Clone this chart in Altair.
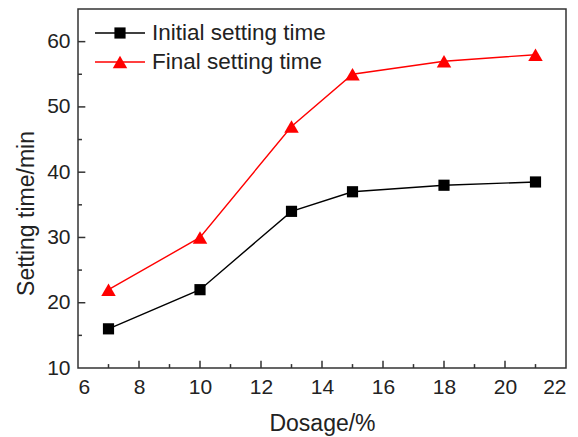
import altair as alt
import pandas as pd

dosage = [7, 10, 13, 15, 18, 21]
initial = [16, 22, 34, 37, 38, 38.5]
final = [22, 30, 47, 55, 57, 58]
series_names = ["Initial setting time", "Final setting time"]
colors = ["#000000", "#ff0000"]
shapes = ["square", "triangle-up"]

x_ticks_major = [8, 10, 12, 14, 16, 18, 20]
x_ticks_minor = [7, 9, 11, 13, 15, 17, 19, 21]
y_ticks_major = [20, 30, 40, 50, 60]
y_ticks_minor = [15, 25, 35, 45, 55]

rows = []
for x, a, b in zip(dosage, initial, final):
    rows.append({"Dosage": x, "Time": a, "Series": series_names[0]})
    rows.append({"Dosage": x, "Time": b, "Series": series_names[1]})
df = pd.DataFrame(rows)

xs = alt.Scale(domain=[6, 22], nice=False, zero=False)
ys = alt.Scale(domain=[10, 65], nice=False, zero=False)
col = alt.Scale(domain=series_names, range=colors)
shp = alt.Scale(domain=series_names, range=shapes)
sizes = alt.Scale(domain=series_names, range=[125, 210])

font = "Liberation Sans"
base = alt.Chart(df)

lines = base.mark_line(strokeWidth=1.4).encode(
    x=alt.X("Dosage:Q", scale=xs, title="Dosage/%",
            axis=alt.Axis(values=[6, 8, 10, 12, 14, 16, 18, 20, 22], grid=False,
                          labelPadding=8, tickSize=0,
                          titleY=62, titleBaseline="alphabetic")),
    y=alt.Y("Time:Q", scale=ys, title="Setting time/min",
            axis=alt.Axis(values=[10, 20, 30, 40, 50, 60], grid=False,
                          labelPadding=8, tickSize=0,
                          titleX=-45, titleY=204, titleBaseline="alphabetic")),
    color=alt.Color("Series:N", scale=col, legend=None),
    detail="Series:N",
)
pts = base.mark_point(filled=True, opacity=1).encode(
    x=alt.X("Dosage:Q", scale=xs),
    y=alt.Y("Time:Q", scale=ys),
    color=alt.Color("Series:N", scale=col, legend=None),
    shape=alt.Shape("Series:N", scale=shp, legend=None),
    size=alt.Size("Series:N", scale=sizes, legend=None),
)

# inward ticks (major + minor), expressed in data units
trows = []
for v in x_ticks_major:
    trows.append({"tx": v, "tx2": v, "ty": 10, "ty2": 11.1})
for v in x_ticks_minor:
    trows.append({"tx": v, "tx2": v, "ty": 10, "ty2": 10.6})
for v in y_ticks_major:
    trows.append({"tx": 6, "tx2": 6.24, "ty": v, "ty2": v})
for v in y_ticks_minor:
    trows.append({"tx": 6, "tx2": 6.13, "ty": v, "ty2": v})
tdf = pd.DataFrame(trows)
ticks = alt.Chart(tdf).mark_rule(color="#333333", strokeWidth=1.5).encode(
    x=alt.X("tx:Q", scale=xs), x2="tx2:Q",
    y=alt.Y("ty:Q", scale=ys), y2="ty2:Q",
)

# legend
leg = pd.DataFrame({"Series": series_names, "ypix": [24, 53]})
leg_line = alt.Chart(leg).mark_rule(strokeWidth=1.4).encode(
    x=alt.value(17), x2=alt.value(67), y=alt.Y("ypix:Q", scale=None),
    color=alt.Color("Series:N", scale=col, legend=None))
leg_pt = alt.Chart(leg).mark_point(filled=True, opacity=1).encode(
    x=alt.value(42), y=alt.Y("ypix:Q", scale=None),
    color=alt.Color("Series:N", scale=col, legend=None),
    shape=alt.Shape("Series:N", scale=shp, legend=None),
    size=alt.Size("Series:N", scale=sizes, legend=None))
leg_txt = alt.Chart(leg).mark_text(align="left", baseline="middle", fontSize=22.5,
                                   font=font, color="#222").encode(
    x=alt.value(74), y=alt.Y("ypix:Q", scale=None), text="Series:N")

chart = alt.layer(
    ticks, lines, pts, leg_line, leg_pt, leg_txt
).properties(
    width=488, height=359,
    autosize=alt.AutoSizeParams(type="none"),
    padding={"left": 78, "top": 9, "right": 12, "bottom": 69},
    background="white",
).configure_view(
    stroke="#333", strokeWidth=1.5
).configure_axis(
    domain=False,
    labelFont=font, labelFontSize=21, labelColor="#222",
    titleFont=font, titleFontSize=23, titleColor="#222", titleFontWeight="normal",
)

chart.save("out.html", embed_options={"renderer": "svg", "actions": False})
